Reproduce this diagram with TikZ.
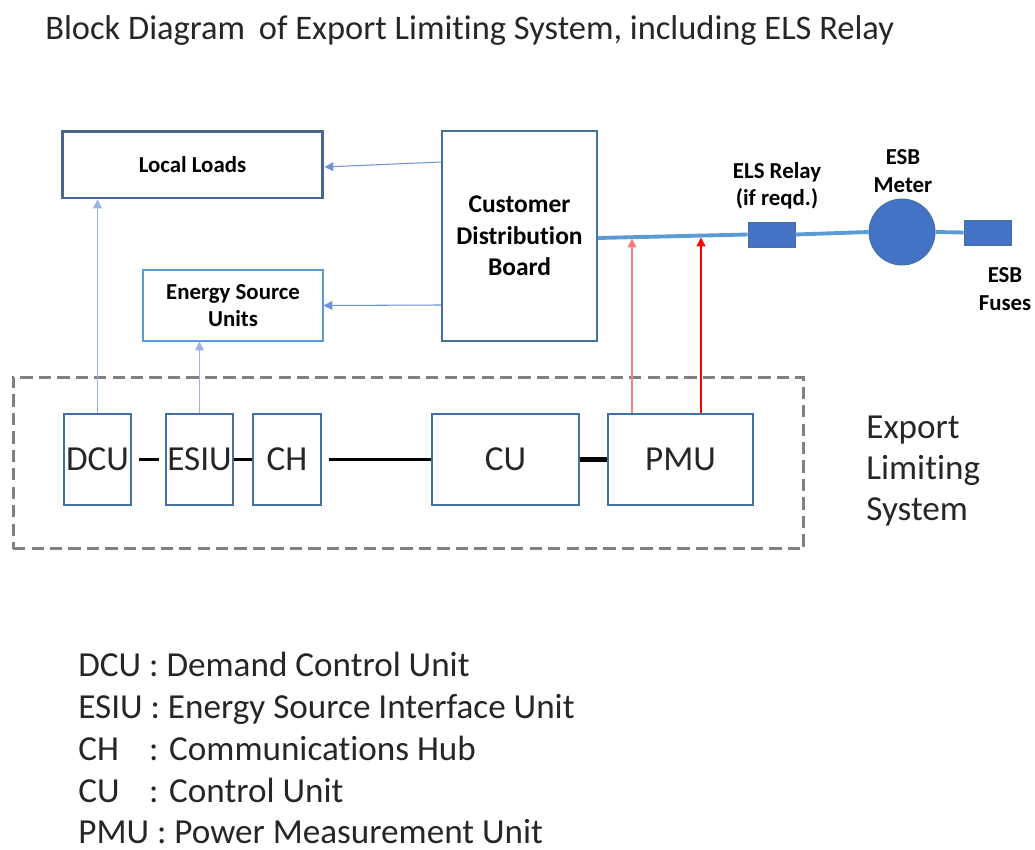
\documentclass[tikz,border=0pt]{standalone}
\usepackage{fontspec}
\setmainfont{Carlito}[Ligatures=NoCommon]
\usetikzlibrary{arrows.meta}
\definecolor{boxblue}{HTML}{41719C}
\definecolor{darkbox}{HTML}{4A6494}
\definecolor{lineblue}{HTML}{5B9BD5}
\definecolor{fillblue}{HTML}{4472C4}
\definecolor{thinblue}{HTML}{6F93D6}
\definecolor{dashgray}{HTML}{808080}
\definecolor{pinkred}{HTML}{FF7C80}
\definecolor{inkgray}{HTML}{262626}
\tikzset{
  bigfont/.style={font=\fontsize{20}{23.5}\selectfont, text=inkgray},
  smallbold/.style={font=\fontsize{13}{15.5}\selectfont\bfseries},
  unitbox/.style={draw=boxblue, line width=1pt, inner sep=0pt, bigfont},
  feed/.style={thinblue, line width=0.6pt, -{Triangle[length=5pt,width=5pt]}},
  signal/.style={line width=0.9pt, -{Triangle[length=5pt,width=5pt]}},
  busline/.style={lineblue, line width=2.2pt},
  link/.style={black, line width=1.2pt},
  legend/.style={bigfont, anchor=base west, inner sep=0pt},
}
\begin{document}
\begin{tikzpicture}[x=0.02cm,y=-0.02cm]
\useasboundingbox (0,0) rectangle (1035,849);

% title
\node[anchor=base west, inner sep=0pt, text=inkgray, font=\fontsize{19.6}{23}\selectfont] (title) at (45,39)
  {Block Diagram\hspace{0.4em}of Export Limiting System, including ELS Relay};

% upper blocks
\node[draw=darkbox, line width=1.7pt, minimum width=5.22cm, minimum height=1.34cm, smallbold] (ll) at (192.5,164.5) {Local Loads};
\node[draw=boxblue, line width=1.1pt, minimum width=3.10cm, minimum height=4.2cm, align=center,
      font=\fontsize{14.5}{18}\selectfont\bfseries] (db) at (519.5,236) {Customer\\Distribution\\Board};
\node[draw=lineblue, line width=0.6pt, minimum width=3.6cm, minimum height=1.42cm, align=center,
      font=\fontsize{13}{15.5}\selectfont\bfseries] (esu) at (233,305.5) {Energy Source\\Units};

% export limiting system enclosure
\node[draw=dashgray, line width=1.7pt, dash pattern=on 7pt off 3.5pt, minimum width=15.82cm, minimum height=3.44cm] (els) at (408.5,463) {};
\node[bigfont, anchor=west, align=left, inner sep=0pt] (elslabel) at (866,471) {Export\\Limiting\\System};

% units inside the enclosure
\node[unitbox, minimum width=1.34cm, minimum height=1.82cm] (dcu) at (97.5,459.5) {DCU};
\node[unitbox, minimum width=1.34cm, minimum height=1.82cm] (esiu) at (199.5,459.5) {ESIU};
\node[unitbox, minimum width=1.36cm, minimum height=1.82cm] (ch) at (287,459.5) {CH};
\node[unitbox, minimum width=2.94cm, minimum height=1.82cm] (cu) at (505.5,459.5) {CU};
\node[unitbox, minimum width=2.90cm, minimum height=1.82cm] (pmu) at (680.5,459.5) {PMU};

% supply side
\node[fill=fillblue, draw=boxblue, line width=0.5pt, minimum width=0.94cm, minimum height=0.5cm, inner sep=0pt] (relay) at (771.5,234.5) {};
\node[circle, fill=fillblue, draw=boxblue, line width=0.5pt, minimum size=1.32cm, inner sep=0pt] (meter) at (902,232) {};
\node[fill=fillblue, draw=boxblue, line width=0.5pt, minimum width=0.94cm, minimum height=0.5cm, inner sep=0pt] (fuses) at (987.5,232.5) {};
\node[smallbold, align=center, inner sep=0pt] (relaylabel) at (777,186) {ELS Relay\\(if reqd.)};
\node[smallbold, align=center, inner sep=0pt] (meterlabel) at (903,171) {ESB\\Meter};
\node[smallbold, align=center, inner sep=0pt] (fuselabel) at (1005,289) {ESB\\Fuses};

% supply bus
\draw[busline] ([yshift=-0.04cm]db.east) -- (relay.west);
\draw[busline] (relay.east) -- (meter.west);
\draw[busline] (meter.east) -- (fuses.west);

% feeds from the distribution board
\draw[feed] ([yshift=1.48cm]db.west) -- ([yshift=-0.05cm]ll.east);
\draw[feed] ([yshift=-1.38cm]db.west) -- (esu.east);

% control links upwards
\draw[feed, draw=thinblue!70] (dcu.north) -- (dcu.north |- ll.south);
\draw[feed, draw=thinblue!70] (esiu.north) -- (esiu.north |- esu.south);

% measurement taps
\coordinate (tapA) at (632,238.5);
\coordinate (tapB) at (701,237.5);
\draw[signal, pinkred] (pmu.north -| tapA) -- (tapA);
\draw[signal, red] (pmu.north -| tapB) -- (tapB);

% communication links between units
\draw[link] ([xshift=0.14cm]dcu.east) -- ([xshift=-0.12cm]esiu.west);
\draw[link] (esiu.east) -- (ch.west);
\draw[link] ([xshift=0.14cm]ch.east) -- (cu.west);
\draw[black, line width=2.4pt] (cu.east) -- (pmu.west);

% legend
\node[legend] (lg1) at (78,676) {DCU : Demand Control Unit};
\node[legend] (lg2) at (78,718) {ESIU : Energy Source Interface Unit};
\node[legend] (lg3) at (78,760) {\rlap{CH}\phantom{DCU} : Communications Hub};
\node[legend] (lg4) at (78,802) {\rlap{CU}\phantom{DCU} : Control Unit};
\node[legend] (lg5) at (78,843) {PMU : Power Measurement Unit};
\end{tikzpicture}
\end{document}
